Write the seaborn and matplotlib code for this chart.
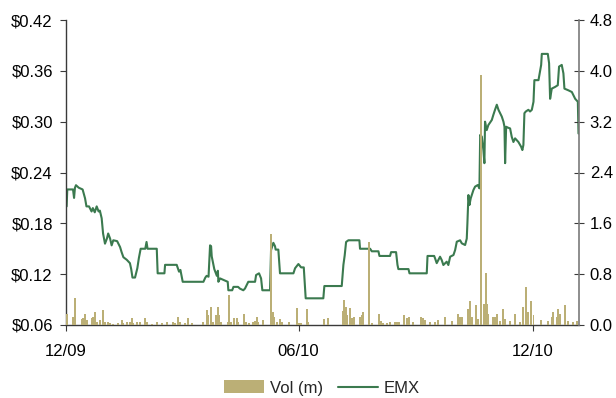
import numpy as np
import pandas as pd
import matplotlib
matplotlib.use("Agg")
import matplotlib.pyplot as plt
import matplotlib.ticker as mticker
from matplotlib.patches import Patch
from matplotlib.lines import Line2D
import seaborn as sns

# ---------------- data ----------------
start_date = "2009-12-01"
end_day = 401.3

# EMX share price: day offset from start_date, price in $
price_day = [0.5, 1.0, 5.5, 6.3, 7.0, 7.8, 10, 13, 14.9, 16, 18, 20, 21, 22.5, 24, 25.5, 26.5,
             27.9, 29, 30.5, 32, 33, 34.5, 35.7, 37, 40, 41, 42.3, 43.5, 44.9, 47.5, 50, 51, 52,
             54, 55.8, 57, 58.4, 62, 63, 63.8, 71, 71.7, 77, 77.5, 86.6, 88.4, 89.5, 91.3, 97,
             107.5, 109, 110, 111.5, 112.7, 113.5, 114, 115.3, 116, 117, 118, 118.8, 119.2, 120.5,
             126.5, 127, 130, 131, 134.6, 136, 138.7, 140, 142.6, 147.9, 148.7, 151, 152.6, 153.6,
             159.6, 160.4, 162.2, 163.5, 164, 166.1, 167.4, 177.9, 179.2, 181.8, 183.9, 186, 186.7,
             187.5, 194.8, 201.3, 202.1, 215.7, 217, 218, 219.1, 220.9, 229.5, 230, 237.9, 239.2,
             244.4, 245.2, 253.5, 254.3, 258.2, 259.3, 260, 267.9, 268.7, 282.2, 282.8, 288.0,
             288.7, 290, 292.6, 293.9, 295.2, 297.8, 299.1, 300.5, 303.1, 304.4, 305.7, 308.3,
             309.6, 312.2, 313.5, 314, 314.8, 315.6, 316.6, 317.4, 318.7, 320, 322.1, 323.4, 324,
             325.3, 326.5, 327.3, 327.8, 329.1, 330.4, 333.1, 334.3, 335.6, 337, 338.3, 340.9,
             342.2, 343, 343.5, 344.3, 345.6, 347.4, 348.7, 350, 351.3, 353.9, 356, 357, 357.8,
             358.6, 359.7, 361.7, 363, 364.4, 365.7, 366.4, 369.6, 371.7, 372.2, 376.9, 377.9,
             378.7, 380, 382.6, 384.7, 385.7, 387.8, 389.1, 389.9, 393, 395.7, 398.3, 400.4, 400.9]
price_usd = [0.200, 0.220, 0.220, 0.210, 0.222, 0.225, 0.222, 0.220, 0.2095, 0.200, 0.200, 0.194,
             0.198, 0.193, 0.200, 0.194, 0.195, 0.186, 0.168, 0.156, 0.162, 0.168, 0.162, 0.154,
             0.160, 0.159, 0.156, 0.152, 0.146, 0.140, 0.137, 0.133, 0.126, 0.116, 0.116, 0.127,
             0.139, 0.150, 0.150, 0.158, 0.150, 0.150, 0.121, 0.121, 0.131, 0.131, 0.123, 0.125,
             0.111, 0.111,
             0.111, 0.116, 0.118, 0.117, 0.154, 0.153, 0.141, 0.131, 0.126, 0.122, 0.118, 0.124,
             0.111, 0.115, 0.111, 0.101, 0.101, 0.105, 0.105, 0.103, 0.101, 0.103, 0.111, 0.111,
             0.119, 0.121, 0.115, 0.101, 0.101, 0.1485, 0.157, 0.153, 0.149, 0.149, 0.121, 0.121,
             0.127, 0.132, 0.128, 0.128, 0.111, 0.0915, 0.0915, 0.0915, 0.106, 0.106, 0.131, 0.142,
             0.158, 0.160, 0.160, 0.150, 0.150, 0.147, 0.147, 0.1415, 0.1415, 0.146, 0.146, 0.131,
             0.126, 0.126, 0.121, 0.121, 0.1415, 0.1415,
             0.1387, 0.133, 0.1406, 0.1367, 0.1308, 0.1347, 0.1308, 0.1406, 0.1426, 0.1485,
             0.1583, 0.160, 0.1564, 0.1544, 0.162, 0.180, 0.2134, 0.2016, 0.2095, 0.2134, 0.2193,
             0.2233, 0.2252, 0.2213, 0.2843, 0.2823, 0.2665, 0.251, 0.300, 0.290, 0.296, 0.302,
             0.308, 0.314, 0.320, 0.314, 0.306, 0.300, 0.294, 0.251, 0.294, 0.293, 0.292, 0.282,
             0.276, 0.2803, 0.276, 0.2705, 0.2665, 0.2725, 0.310, 0.312, 0.314, 0.312, 0.314,
             0.3235, 0.349, 0.349, 0.367, 0.380, 0.380, 0.369, 0.327, 0.339, 0.341, 0.343, 0.365,
             0.367, 0.357, 0.339, 0.337, 0.335, 0.327, 0.3235, 0.286]

# Daily volume (millions): day offset from start_date, volume
vol_day = [0.5, 5.7, 7, 12.3, 13.6, 14.9, 16.2, 20.1, 21.4, 22.7, 24, 26.6, 29.2, 30.5, 33.1, 34.4,
           37, 40.9, 43.6, 44.9, 47.5, 50.1, 51.4, 52.7, 55.3, 57.9, 61.8, 63.1, 67.1, 71, 74.9,
           78.8, 84, 85.3, 87.9, 89.2, 93.1, 95.7, 98.4, 107.5, 110.1, 111.4, 113.5, 115.3, 117.1,
           118.7, 120, 121.3, 126.5, 127.8, 129.1, 131.7, 133.6, 134.8, 139.5, 140.8, 143.2, 146.6,
           147.9, 149.2, 150.5, 154.4, 160.4, 161.7, 163, 164.9, 167.4, 168.8, 174.7, 180.5, 182.3,
           183.9, 188.3, 189.6, 202.1, 205.3, 216.5, 217.5, 218.9, 219.6, 222.2, 223.6, 225.6, 230,
           231.4, 232.6, 237.3, 239.2, 245.2, 246.2, 248.3, 250.9, 253.5, 257.4, 258.7, 260.8,
           264.7, 266.6, 268.6, 271.8, 277.8, 279.6, 280.9, 284.8, 288.7, 291.3, 296.6, 301.8, 307,
           308.3, 309.6, 314.8, 316.1, 317.4, 320.6, 322.1, 324.7, 327.3, 328.4, 329.4, 330.4,
           334.3, 335.7, 337, 339.6, 342.2, 343.5, 347.4, 351.3, 355.2, 357.8, 359.7, 361.2, 363.8,
           365.7, 371.7, 377.4, 380, 381.3, 383.9, 385.2, 386.6, 390.5, 392.6, 396.9, 399.5]
vol_m = [0.18, 0.13, 0.42, 0.094, 0.105, 0.18, 0.08, 0.105, 0.13, 0.21, 0.05, 0.08, 0.236, 0.05,
         0.05, 0.026, 0.016, 0.026, 0.08, 0.026, 0.05, 0.05, 0.105, 0.026, 0.05, 0.05, 0.115, 0.05,
         0.02, 0.05, 0.026, 0.05, 0.05, 0.026, 0.13, 0.05, 0.026, 0.105, 0.026, 0.05, 0.236, 0.157,
         0.29, 0.05, 0.157, 0.29, 0.157, 0.05, 0.05, 0.47, 0.05, 0.105, 0.105, 0.05, 0.18, 0.05,
         0.026, 0.05, 0.063, 0.13, 0.05, 0.08, 1.43, 0.21, 0.13, 0.05, 0.094, 0.05, 0.04, 0.26,
         0.026, 0.026, 0.25, 0.05, 0.094, 0.105, 0.22, 0.40, 0.29, 0.157, 0.27, 0.105, 0.13, 0.13,
         0.157, 0.20, 1.31, 0.026, 0.17, 0.063, 0.026, 0.026, 0.05, 0.05, 0.05, 0.04, 0.157, 0.105,
         0.13, 0.05, 0.13, 0.105, 0.08, 0.05, 0.05, 0.08, 0.12, 0.07, 0.18, 0.12, 0.12, 0.25, 0.38,
         0.12, 0.31, 0.09, 3.93, 0.33, 0.82, 0.33, 0.17, 0.13, 0.13, 0.18, 0.07, 0.25, 0.09, 0.07,
         0.18, 0.04, 0.28, 0.60, 0.20, 0.38, 0.15, 0.08, 0.07, 0.12, 0.20, 0.12, 0.25, 0.17, 0.32,
         0.07, 0.04, 0.07]

x_ticks = ["2009-12-01", "2010-06-01", "2010-12-01"]
x_tick_labels = ["12/09", "06/10", "12/10"]
left_ticks = [0.06, 0.12, 0.18, 0.24, 0.30, 0.36, 0.42]
right_ticks = [0.0, 0.8, 1.6, 2.4, 3.2, 4.0, 4.8]

# ---------------- build frames ----------------
t0 = pd.Timestamp(start_date)
price_df = pd.DataFrame({"date": t0 + pd.to_timedelta(price_day, unit="D"), "EMX": price_usd})
vol_df = pd.DataFrame({"date": t0 + pd.to_timedelta(vol_day, unit="D"), "vol": vol_m})

sns.set_theme(style="white")
plt.rcParams["font.family"] = ["Liberation Sans", "DejaVu Sans"]
plt.rcParams["font.size"] = 12

LINE_C = "#3B7A4F"
BAR_C = "#BBAF76"

fig = plt.figure(figsize=(6.16, 3.98), dpi=100)
ax = fig.add_axes([66 / 616, 1 - 325 / 398, (579 - 66) / 616, (325 - 20) / 398])
sns.lineplot(data=price_df, x="date", y="EMX", ax=ax, color=LINE_C, lw=1.5, legend=False)
ax2 = ax.twinx()
ax2.bar(vol_df["date"], vol_df["vol"], width=1.5, color=BAR_C, edgecolor="none", align="center")

ax.set_xlim(t0, t0 + pd.Timedelta(days=end_day))
ax.set_ylim(0.06, 0.42)
ax2.set_ylim(0.0, 4.8)
ax.set_yticks(left_ticks)
ax.yaxis.set_major_formatter(mticker.FuncFormatter(lambda v, p: f"${v:.2f}"))
ax2.set_yticks(right_ticks)
ax2.yaxis.set_major_formatter(mticker.FuncFormatter(lambda v, p: f"{v:.1f}"))
ax.set_xticks(pd.to_datetime(x_ticks))
ax.set_xticklabels(x_tick_labels)
ax.set_xlabel("")
ax.set_ylabel("")
ax2.set_ylabel("")

for a in (ax, ax2):
    a.spines["top"].set_visible(False)
    a.grid(False)
ax.spines["right"].set_visible(False)
ax2.spines["left"].set_visible(False)
ax2.spines["bottom"].set_visible(False)
ax.spines["left"].set_color("#3a3a3a")
ax.spines["bottom"].set_color("#3a3a3a")
ax2.spines["right"].set_color("#7a7a7a")
for s in ("left", "bottom"):
    ax.spines[s].set_linewidth(1.0)
ax2.spines["right"].set_linewidth(1.2)

ax.tick_params(axis="y", which="major", direction="out", length=4.5, width=0.8,
               color="#3a3a3a", pad=5, labelsize=12, labelcolor="black", left=True)
ax.tick_params(axis="x", which="major", direction="out", length=4.5, width=0.8,
               color="#3a3a3a", pad=9, labelsize=12, labelcolor="black", bottom=True)
ax2.tick_params(axis="y", which="major", direction="inout", length=7.5, width=0.8,
                color="#3a3a3a", pad=4, labelsize=12, labelcolor="black", right=True)

handles = [Patch(facecolor=BAR_C, edgecolor="none", label="Vol (m)"),
           Line2D([0], [0], color=LINE_C, lw=1.5, label="EMX")]
fig.legend(handles=handles, loc="center", bbox_to_anchor=(322 / 616, 1 - 388 / 398), ncol=2,
           frameon=False, fontsize=12, handlelength=2.4, handleheight=0.8, columnspacing=0.9,
           handletextpad=0.35, borderaxespad=0, borderpad=0.1)

fig.savefig("out.png", dpi=100)
